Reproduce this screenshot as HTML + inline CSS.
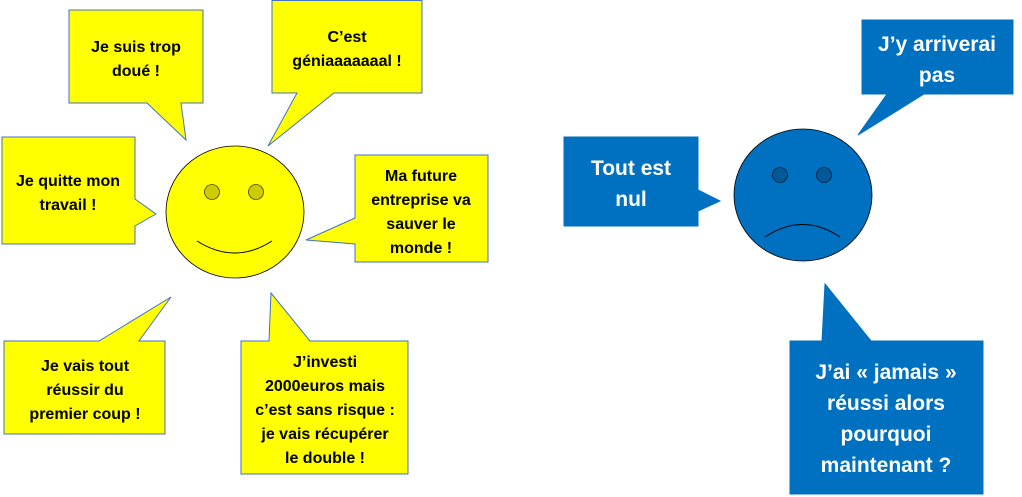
<!DOCTYPE html>
<html><head><meta charset="utf-8"><style>
html,body{margin:0;padding:0;background:#fff;width:1022px;height:497px;overflow:hidden}
svg{display:block}
text{font-family:"Liberation Sans",sans-serif;font-weight:bold;text-anchor:middle}
.y{fill:#ffff00;stroke:#4472c4;stroke-width:1}
.b{fill:#0070c0;stroke:#0070c0;stroke-width:1}
.ty{font-size:16px;fill:#000}
.tb{font-size:21px;fill:#fff}
</style></head><body>
<svg width="1022" height="497" viewBox="0 0 1022 497">
<path class="y" d="M69,10H203V103H181L186,140L147,103H69Z"/>
<text class="ty" x="136" y="52">Je suis trop</text><text class="ty" x="136" y="76">doué !</text>
<path class="y" d="M272,0.5H422V93H334L268,146L297,93H272Z"/>
<text class="ty" x="347" y="42">C’est</text><text class="ty" x="347" y="66">géniaaaaaaal !</text>
<path class="y" d="M2,137H135V199L156,214L135,226V244H2Z"/>
<text class="ty" x="68" y="186">Je quitte mon</text><text class="ty" x="68" y="210">travail !</text>
<path class="y" d="M355,155H488V262H355V244L306,240L355,218Z"/>
<text class="ty" x="421" y="181">Ma future</text><text class="ty" x="421" y="205">entreprise va</text><text class="ty" x="421" y="229">sauver le</text><text class="ty" x="421" y="253">monde !</text>
<path class="y" d="M4,341H99L171,297L139,341H165V434H4Z"/>
<text class="ty" x="85" y="371">Je vais tout</text><text class="ty" x="85" y="395">réussir du</text><text class="ty" x="85" y="419">premier coup !</text>
<path class="y" d="M241,341H269L271,293L310,341H408V474H241Z"/>
<text class="ty" x="325" y="367">J’investi</text><text class="ty" x="325" y="391">2000euros mais</text><text class="ty" x="325" y="415">c’est sans risque :</text><text class="ty" x="325" y="439">je vais récupérer</text><text class="ty" x="325" y="463">le double !</text>
<ellipse cx="235" cy="212" rx="69" ry="66" fill="#ffff00" stroke="#000" stroke-width="0.8"/>
<circle cx="212" cy="192" r="7.5" fill="#cccc00" stroke="#000" stroke-width="0.6"/>
<circle cx="256" cy="192" r="7.5" fill="#cccc00" stroke="#000" stroke-width="0.6"/>
<path d="M197,241Q235,265 272,241" fill="none" stroke="#000" stroke-width="1"/>
<path class="b" d="M862,20H1013V94H924L858,135L887,94H862Z"/>
<text class="tb" x="937" y="51">J’y arriverai</text><text class="tb" x="937" y="82">pas</text>
<path class="b" d="M564,137H698V190L720,201L698,211V226H564Z"/>
<text class="tb" x="631" y="175">Tout est</text><text class="tb" x="631" y="206">nul</text>
<path class="b" d="M790,341H822L825,284L871,341H983V494H790Z"/>
<text class="tb" x="886" y="379">J’ai « jamais »</text><text class="tb" x="886" y="410">réussi alors</text><text class="tb" x="886" y="441">pourquoi</text><text class="tb" x="886" y="472">maintenant ?</text>
<ellipse cx="803" cy="195" rx="69" ry="66" fill="#0070c0" stroke="#000" stroke-width="0.8"/>
<circle cx="780" cy="175" r="7.5" fill="#005a9a" stroke="#000" stroke-width="0.6"/>
<circle cx="824" cy="175" r="7.5" fill="#005a9a" stroke="#000" stroke-width="0.6"/>
<path d="M765,237Q803,212 840,237" fill="none" stroke="#000" stroke-width="1"/>
</svg>
</body></html>
